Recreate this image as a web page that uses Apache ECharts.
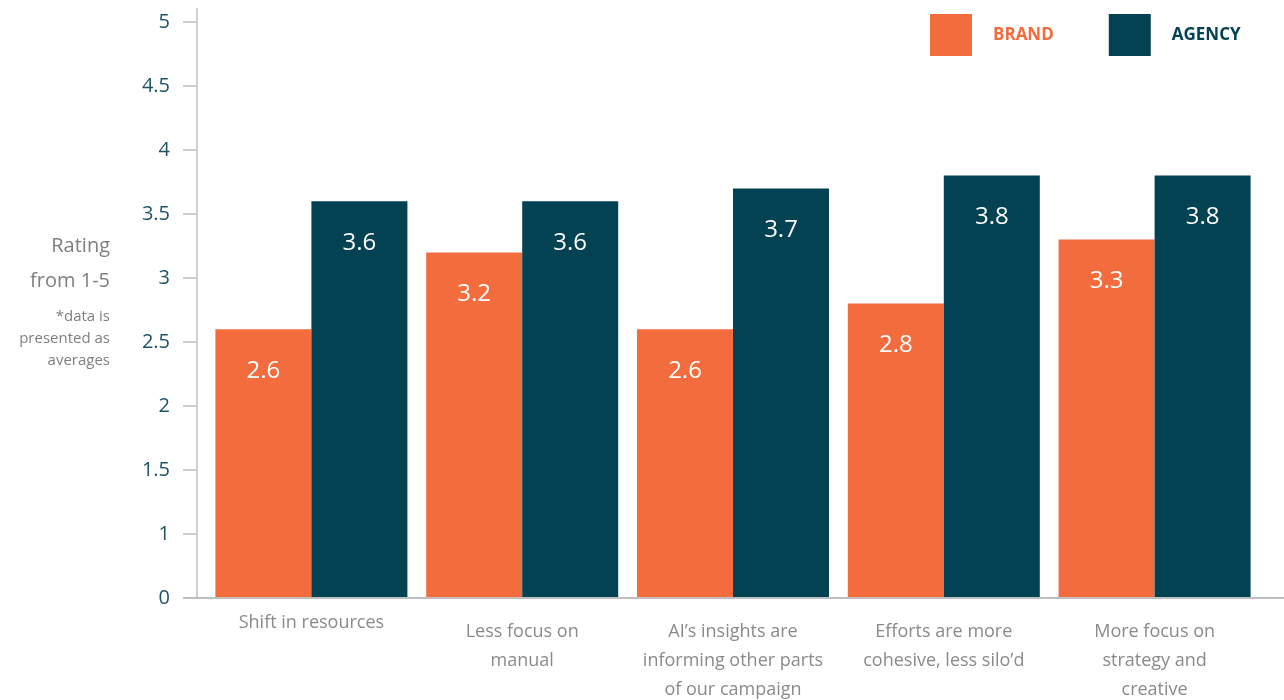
<!DOCTYPE html>
<html>
<head>
<meta charset="utf-8">
<title>Rating by category</title>
<script src="https://cdn.jsdelivr.net/npm/echarts@6/dist/echarts.min.js"></script>
<style>
  html, body { margin: 0; padding: 0; background: #ffffff; }
  #chart { width: 1284px; height: 700px; }
</style>
</head>
<body>
<div id="chart"></div>
<script>
// Categories (line breaks as displayed under the axis)
const categories = [
  'Shift in resources',
  'Less focus on\nmanual',
  'AI\u2019s insights are\ninforming other parts\nof our campaign',
  'Efforts are more\ncohesive, less silo\u2019d',
  'More focus on\nstrategy and\ncreative'
];

// Average ratings per group
const brandValues  = [2.6, 3.2, 2.6, 2.8, 3.3];
const agencyValues = [3.6, 3.6, 3.7, 3.8, 3.8];

// Value axis: ticks from 0.5 to 5, the baseline tick is shown as "0"
const yMin = 0.5, yMax = 5, yStep = 0.5;
const yBaselineLabel = '0';

const BRAND_COLOR  = '#F26C3E';
const AGENCY_COLOR = '#024252';
const TICK_COLOR   = '#1F5467';
const GRAY_TEXT    = '#8A8A8A';
const AXIS_GRAY    = '#BFBFBF';
const FONT = '"Open Sans", "DejaVu Sans", sans-serif';

const chart = echarts.init(document.getElementById('chart'), null, { renderer: 'canvas' });

function catLabel(value, index) {
  const lines = value.split('\n');
  const tag = index === 0 ? 's' : 'm';
  return lines.map(l => '{' + tag + '|' + l + '}').join('\n');
}

const barLabel = {
  show: true,
  position: 'insideTop',
  distance: 30,
  color: '#ffffff',
  fontFamily: FONT,
  fontSize: 24,
  formatter: p => Number(p.value).toFixed(1)
};

chart.setOption({
  animation: false,
  backgroundColor: '#ffffff',
  textStyle: { fontFamily: FONT },
  grid: { left: 206, right: 24, top: 22, bottom: 102, containLabel: false },
  legend: {
    left: 925,
    top: 9,
    icon: 'rect',
    itemWidth: 42,
    itemHeight: 42,
    itemGap: 55,
    selectedMode: false,
    data: [
      { name: 'BRAND',  textStyle: { color: BRAND_COLOR,  fontWeight: 'bold', fontSize: 17, padding: [0, 0, 0, 16], fontFamily: FONT } },
      { name: 'AGENCY', textStyle: { color: AGENCY_COLOR, fontWeight: 'bold', fontSize: 17, padding: [0, 0, 0, 16], fontFamily: FONT } }
    ]
  },
  xAxis: {
    type: 'category',
    data: categories,
    axisLine: { show: false },
    axisTick: { show: false },
    axisLabel: {
      margin: 19,
      interval: 0,
      formatter: catLabel,
      rich: {
        s: { color: GRAY_TEXT, fontSize: 18, fontFamily: FONT, lineHeight: 11 },
        m: { color: GRAY_TEXT, fontSize: 18, fontFamily: FONT, lineHeight: 29 }
      }
    }
  },
  yAxis: {
    type: 'value',
    min: yMin,
    max: yMax,
    interval: yStep,
    offset: 9,
    axisLine: { show: false },
    axisTick: { show: true, length: 14, lineStyle: { color: AXIS_GRAY, width: 1.5 } },
    splitLine: { show: false },
    axisLabel: {
      margin: 27,
      color: TICK_COLOR,
      fontSize: 20,
      fontFamily: FONT,
      formatter: v => (Math.abs(v - yMin) < 1e-9 ? yBaselineLabel : String(+v.toFixed(1)))
    }
  },
  series: [
    {
      name: 'BRAND',
      type: 'bar',
      data: brandValues,
      barWidth: 96,
      barGap: '0%',
      itemStyle: { color: BRAND_COLOR },
      label: barLabel
    },
    {
      name: 'AGENCY',
      type: 'bar',
      data: agencyValues,
      barWidth: 96,
      barGap: '0%',
      itemStyle: { color: AGENCY_COLOR },
      label: barLabel
    }
  ]
});

// Axis lines and the axis title, placed from the grid's own coordinates
const y0 = chart.convertToPixel({ yAxisIndex: 0 }, yMin);
const yTop = chart.convertToPixel({ yAxisIndex: 0 }, yMax);
const axisX = 197;
const titleRight = 110;

chart.setOption({
  graphic: [
    { type: 'line', silent: true, z: 5,
      shape: { x1: axisX, y1: yTop - 14, x2: axisX, y2: y0 },
      style: { stroke: AXIS_GRAY, lineWidth: 1.5 } },
    { type: 'line', silent: true, z: 5,
      shape: { x1: 183, y1: y0, x2: 1284, y2: y0 },
      style: { stroke: AXIS_GRAY, lineWidth: 2 } },
    { type: 'text', x: titleRight, y: 229, silent: true,
      style: { text: 'Rating\nfrom 1-5', fill: '#7F7F7F', font: '20px ' + FONT,
               align: 'right', verticalAlign: 'top', lineHeight: 35 } },
    { type: 'text', x: titleRight, y: 306, silent: true,
      style: { text: '*data is\npresented as\naverages', fill: '#7F7F7F', font: '15px ' + FONT,
               align: 'right', verticalAlign: 'top', lineHeight: 22 } }
  ]
});
</script>
</body>
</html>
